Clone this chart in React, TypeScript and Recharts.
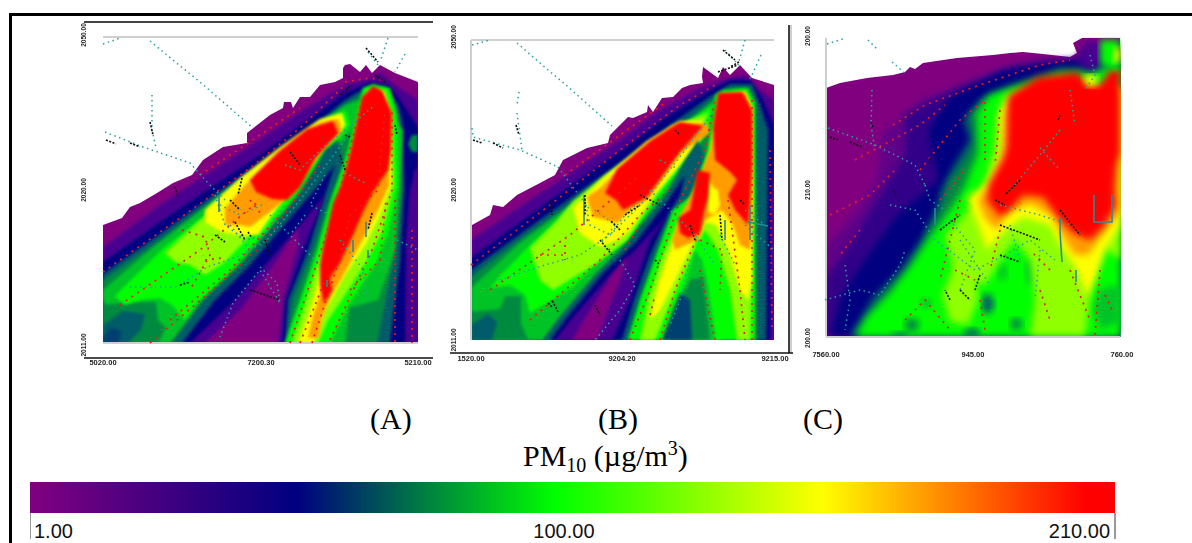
import React from 'react';
import { ScatterChart, Scatter, XAxis, YAxis, ReferenceLine, BarChart, Bar } from 'recharts';

type Pt = [number, number];
type Layer = [string, Pt[]];

const PURPLE = '#800080', PLUM = '#600088', INDIGO = '#4a0090', VIOLET = '#300088', NAVY = '#000080', TEAL = '#005c68', DKGREEN = '#008a40',
  MIDGREEN = '#00c428', GREEN = '#00ff00', LIME = '#90ff00', YELLOW = '#ffff00', ORANGE = '#ff9c00', RED = '#ff0000';

/* ---------- Panel A: concentration contours ---------- */
const aBase: Pt[] = [[345,65],[350,64],[360,72],[366,65],[372,73],[380,65],[395,73],[418,82],[418,343],[103,343],[103,225],[122,218],[130,207],[140,203],[157,193],[173,183],[192,175],[203,160],[223,147],[247,143],[247,133],[270,115],[283,108],[284,102],[291,102],[293,108],[300,97],[310,97],[320,85],[335,82],[343,78],[343,68]];
const aIndigo: Pt[] = [[103,247],[160,205],[205,175],[255,143],[300,112],[345,85],[372,78],[380,72],[395,85],[418,100],[418,343],[103,343]];
const aNavy: Pt[] = [[103,262],[160,222],[210,188],[260,155],[305,122],[345,93],[370,82],[388,85],[400,100],[418,127],[418,165],[410,190],[406,240],[405,343],[103,343]];
const aTeal: Pt[] = [[103,274],[160,234],[215,194],[265,161],[310,129],[345,100],[365,88],[385,87],[398,105],[402,120],[404,190],[402,225],[400,260],[395,300],[390,343],[103,343]];
const aBlob: Pt[] = [[412,135],[418,135],[418,152],[412,152],[408,144]];
const aRightPurple: Pt[] = [[414,170],[418,170],[418,343],[408,343],[410,250]];
const aDkGreen: Pt[] = [[103,280],[160,240],[218,197],[268,163],[313,130],[348,103],[365,92],[385,90],[396,107],[400,130],[402,190],[398,225],[394,258],[385,303],[377,343],[103,343]];
const aLeftMid: Pt[] = [[103,290],[150,250],[210,203],[260,166],[305,133],[345,105],[360,100],[352,130],[335,150],[300,195],[240,268],[200,305],[170,343],[130,343],[103,300]];
const aPatchDk: Pt[] = [[103,305],[130,302],[156,302],[158,320],[166,328],[158,343],[103,343]];
const aPatchTeal: Pt[] = [[103,325],[123,311],[145,314],[141,330],[128,343],[103,343]];
const aPatchNavy: Pt[] = [[103,336],[113,327],[122,332],[118,343],[103,343]];
const aLeftGreen: Pt[] = [[115,296],[135,276],[165,247],[200,219],[235,192],[275,162],[310,137],[345,110],[350,125],[330,150],[295,195],[265,232],[230,272],[195,305],[185,320],[178,312],[172,305],[160,298],[140,300],[125,305]];
const aLeftLime: Pt[] = [[165,253],[195,225],[225,199],[265,167],[300,140],[340,114],[345,125],[320,155],[285,195],[255,230],[225,262],[205,275],[190,265],[175,262]];
const aLeftYellow: Pt[] = [[205,210],[240,178],[280,147],[320,119],[342,113],[345,125],[320,153],[290,190],[258,235],[240,235],[222,232],[205,222]];
const aLeftOrange: Pt[] = [[225,208],[245,185],[262,169],[287,149],[320,123],[338,119],[342,132],[320,152],[293,193],[272,210],[250,227],[240,225],[225,225]];
const aLeftRed: Pt[] = [[250,180],[278,152],[307,129],[333,121],[338,133],[315,159],[300,187],[287,200],[272,199],[256,192]];
const aGapTeal: Pt[] = [[338,140],[345,170],[333,190],[313,250],[293,300],[287,343],[172,343],[203,300],[240,265],[300,193],[325,150]];
const aGapNavy: Pt[] = [[335,165],[325,195],[308,250],[288,300],[285,343],[182,343],[215,300],[250,265],[310,195]];
const aGapIndigo: Pt[] = [[325,195],[303,250],[285,300],[282,343],[190,343],[235,300],[265,265],[300,225]];
const aGapPurple: Pt[] = [[298,228],[298,245],[283,300],[278,343],[205,343],[240,310],[270,270]];
const aRightMid: Pt[] = [[320,343],[340,310],[378,300],[395,250],[400,180],[403,130],[375,95],[345,343]];
const aRightGreen: Pt[] = [[285,343],[300,300],[317,250],[330,203],[347,153],[357,110],[363,88],[373,84],[390,88],[397,115],[398,187],[394,207],[388,233],[375,265],[358,290],[342,318],[330,343]];
const aRightLime: Pt[] = [[292,343],[305,305],[322,250],[335,205],[350,155],[360,110],[367,90],[385,90],[392,115],[394,185],[388,210],[382,232],[366,262],[345,295],[328,320],[318,343]];
const aRightYellow: Pt[] = [[298,343],[310,310],[325,258],[338,210],[353,155],[363,112],[370,92],[383,92],[390,115],[391,185],[380,215],[365,245],[345,275],[325,310],[313,343]];
const aRightOrange: Pt[] = [[308,338],[312,320],[320,295],[327,260],[341,210],[356,155],[365,112],[372,90],[381,90],[388,112],[389,185],[378,210],[362,240],[345,272],[330,298],[322,318],[318,338]];
const aRightRed: Pt[] = [[373,86],[382,91],[392,113],[391,150],[388,170],[373,192],[363,212],[353,235],[340,263],[330,278],[332,290],[324,304],[320,285],[320,265],[323,247],[333,203],[340,187],[350,153],[357,120],[362,97]];

const aLayers: Layer[] = [
  [INDIGO, aIndigo], [NAVY, aNavy], [TEAL, aTeal], [DKGREEN, aBlob], [INDIGO, aRightPurple], [DKGREEN, aDkGreen],
  [MIDGREEN, aLeftMid], [DKGREEN, aPatchDk], [TEAL, aPatchTeal], ['#004070', aPatchNavy],
  [GREEN, aLeftGreen], [LIME, aLeftLime], [YELLOW, aLeftYellow], [ORANGE, aLeftOrange], [RED, aLeftRed],
  [TEAL, aGapTeal], [NAVY, aGapNavy], [INDIGO, aGapIndigo], [PURPLE, aGapPurple],
  [MIDGREEN, aRightMid], [GREEN, aRightGreen], [LIME, aRightLime], [YELLOW, aRightYellow], [ORANGE, aRightOrange], [RED, aRightRed],
];

const aTealRoads: Pt[][] = [
  [[103,44],[120,38]], [[150,41],[179,65],[200,82],[253,128]], [[152,95],[152,130],[156,148]],
  [[105,132],[143,147],[190,163],[208,183],[225,200]], [[368,52],[378,65]], [[388,38],[380,62]], [[405,54],[395,72]],
  [[130,287],[177,287],[207,267],[237,257],[267,240],[300,200],[330,160],[345,140]],
  [[215,195],[225,225],[245,240],[265,235],[285,205]], [[260,267],[277,283],[280,303],[260,270],[233,303],[220,337]],
  [[270,215],[305,250],[320,265]], [[340,240],[362,268],[368,300]], [[397,240],[418,250]],
  [[285,165],[300,170],[320,150],[345,130],[375,105]], [[345,173],[365,183]],
  [[220,205],[240,215],[262,205]], [[230,225],[250,250]], [[325,175],[310,205],[330,215]], [[305,215],[290,235]],
];
const aTealBars: Pt[][] = [[[219,195],[219,212]], [[366,222],[366,237]], [[353,240],[353,252]], [[368,250],[368,258]], [[327,280],[327,287]]];
const aRedRoads: Pt[][] = [
  [[103,272],[180,218],[250,168],[300,128],[345,85]], [[120,305],[200,250],[260,200]], [[150,343],[210,292],[262,245],[320,165]],
  [[290,343],[318,260],[340,190],[362,100]], [[312,343],[340,258],[350,215],[378,190],[385,110]], [[330,340],[372,250],[392,190],[392,110]],
  [[395,200],[395,343]], [[412,230],[412,343]], [[345,82],[370,78],[382,80]], [[182,230],[205,237],[210,255],[190,290]],
  [[200,175],[260,135],[300,108]], [[170,320],[230,270],[280,215]], [[300,343],[325,280]], [[350,290],[380,260],[386,200]], [[250,200],[262,215]], [[205,260],[222,258]],
];
const aBlackRoads: Pt[][] = [
  [[366,48],[378,62]], [[150,122],[153,135]], [[106,140],[116,144]], [[130,143],[140,147]], [[345,135],[350,137]], [[340,155],[345,170]],
  [[235,222],[245,240]], [[180,285],[190,282]], [[250,290],[280,300]], [[265,240],[270,255]], [[242,178],[238,195]], [[372,213],[368,230]],
  [[375,75],[385,82]], [[290,152],[300,165]], [[175,187],[178,197]], [[395,125],[397,135]], [[230,200],[240,210]], [[215,235],[225,242]], [[340,95],[352,85]], [[248,232],[252,238]],
];
const aFrame: Pt[][] = [[[103,37],[418,37]], [[103,343],[418,343]]];

/* ---------- Panel B ---------- */
const bBase: Pt[] = [[774,85],[752,78],[740,65],[730,75],[723,67],[718,78],[703,67],[702,77],[703,83],[690,85],[682,88],[673,97],[662,98],[653,112],[648,105],[647,112],[633,118],[628,117],[610,135],[608,143],[587,148],[563,160],[555,175],[540,183],[517,195],[503,207],[493,205],[490,215],[472,225],[471,340],[774,340]];
const bIndigo: Pt[] = [[471,240],[530,200],[575,170],[620,140],[660,110],[700,88],[730,78],[745,75],[760,90],[774,100],[774,340],[471,340]];
const bNavy: Pt[] = [[471,258],[530,215],[585,175],[625,148],[665,118],[705,93],[730,80],[750,80],[763,100],[774,125],[774,170],[770,200],[770,340],[471,340]];
const bTeal: Pt[] = [[471,270],[530,227],[590,184],[630,156],[670,125],[708,98],[730,84],[752,84],[760,105],[768,130],[766,340],[471,340]];
const bDkGreen: Pt[] = [[471,277],[530,232],[595,188],[635,160],[675,130],[712,100],[735,88],[750,88],[756,105],[757,340],[471,340]];
const bLeftMid: Pt[] = [[471,288],[520,243],[580,198],[630,161],[678,130],[715,100],[712,125],[695,150],[667,193],[627,243],[597,273],[560,317],[543,340],[490,340],[471,310]];
const bPatchDk: Pt[] = [[471,312],[500,309],[505,296],[521,296],[521,323],[528,340],[471,340]];
const bPatchTeal: Pt[] = [[471,325],[488,314],[497,322],[492,340],[471,340]];
const bLeftGreen: Pt[] = [[490,288],[500,276],[530,245],[565,213],[600,185],[640,155],[680,128],[712,106],[708,130],[690,155],[660,195],[627,240],[600,260],[573,287],[530,313],[525,295],[510,285]];
const bLeftLime: Pt[] = [[530,248],[557,221],[573,201],[605,175],[645,148],[682,123],[708,113],[695,145],[660,190],[627,240],[597,263],[553,290],[540,280]];
const bLeftYellow: Pt[] = [[573,208],[603,178],[647,141],[680,121],[703,121],[700,140],[680,165],[650,200],[630,230],[617,240],[600,247],[580,233]];
const bLeftOrange: Pt[] = [[587,197],[600,188],[617,171],[647,145],[673,125],[707,123],[710,133],[680,153],[660,183],[647,200],[630,210],[617,223],[593,217]];
const bLeftRed: Pt[] = [[605,193],[617,169],[650,141],[680,122],[703,126],[680,152],[657,183],[647,197],[623,210],[616,200]];
const bGapTeal: Pt[] = [[698,140],[708,165],[690,197],[673,212],[657,253],[640,300],[628,340],[543,340],[560,317],[597,273],[627,243],[667,193],[685,160]];
const bGapNavy: Pt[] = [[685,175],[680,195],[668,215],[650,255],[634,300],[622,340],[550,340],[567,317],[603,273],[635,243],[668,200]];
const bGapIndigo: Pt[] = [[668,215],[650,240],[630,300],[612,340],[555,340],[575,315],[610,275],[640,245]];
const bGapPurple: Pt[] = [[628,255],[620,280],[612,300],[597,340],[572,340],[590,310],[612,275]];
const bRightGreen: Pt[] = [[628,340],[640,300],[657,253],[673,210],[690,197],[707,153],[713,117],[715,95],[723,90],[747,88],[755,103],[755,340]];
const bRightLime: Pt[] = [[640,340],[648,300],[663,255],[680,218],[698,190],[710,150],[716,118],[720,95],[745,92],[752,110],[753,200],[752,260],[750,340],[737,340],[730,290],[718,250],[705,230],[690,260],[672,300],[655,340]];
const bRightYellow: Pt[] = [[650,320],[658,285],[668,255],[680,225],[700,195],[712,150],[717,118],[720,95],[745,92],[752,108],[752,200],[752,280],[748,300],[740,290],[728,250],[716,225],[705,222],[692,245],[675,280],[660,310]];
const bRightOrange: Pt[] = [[672,240],[680,215],[695,188],[710,150],[716,118],[720,95],[745,92],[752,110],[752,170],[752,225],[750,250],[740,245],[733,225],[722,210],[705,220],[698,240],[685,245],[675,250]];
const bYellowCore: Pt[] = [[707,178],[713,187],[718,190],[720,205],[715,215],[708,212],[708,195]];
const bMainRed: Pt[] = [[718,93],[742,92],[752,110],[752,163],[750,200],[748,225],[735,210],[728,195],[737,180],[730,172],[715,160],[713,127]];
const bSideRed: Pt[] = [[697,170],[710,173],[708,197],[704,212],[700,233],[688,238],[680,233],[678,218],[690,210],[693,195]];
const bNotchGreen: Pt[] = [[697,237],[703,245],[712,280],[722,340],[658,340],[668,310],[680,285],[692,262]];
const bNotchMid: Pt[] = [[695,250],[702,260],[708,285],[716,340],[662,340],[672,310],[685,285]];
const bNotchDk: Pt[] = [[690,280],[703,277],[710,340],[668,340],[678,305]];
const bNotchNavy: Pt[] = [[680,293],[690,300],[692,340],[662,340],[672,315]];

const bLayers: Layer[] = [
  [INDIGO, bIndigo], [NAVY, bNavy], [TEAL, bTeal], [DKGREEN, bDkGreen], [MIDGREEN, bLeftMid], [DKGREEN, bPatchDk], [TEAL, bPatchTeal],
  [GREEN, bLeftGreen], [LIME, bLeftLime], [YELLOW, bLeftYellow], [ORANGE, bLeftOrange], [RED, bLeftRed],
  [TEAL, bGapTeal], [NAVY, bGapNavy], [INDIGO, bGapIndigo], [PURPLE, bGapPurple],
  [GREEN, bRightGreen], [LIME, bRightLime], [YELLOW, bRightYellow], [ORANGE, bRightOrange], [YELLOW, bYellowCore], [RED, bMainRed], [RED, bSideRed],
  [GREEN, bNotchGreen], [MIDGREEN, bNotchMid], [DKGREEN, bNotchDk], ['#004070', bNotchNavy],
];

const bTealRoads: Pt[][] = [
  [[472,45],[490,40]], [[517,43],[548,70],[566,85],[612,126]], [[519,92],[517,105]], [[517,113],[522,150]], [[472,128],[473,137],[520,150],[558,167]],
  [[558,167],[575,190],[590,210]], [[725,50],[736,62]], [[745,40],[738,65]], [[761,55],[752,75],[748,82]],
  [[500,280],[545,265],[580,255],[610,235],[650,195],[685,150],[715,110]], [[585,200],[590,225],[610,235],[625,215],[640,200]],
  [[620,260],[635,285],[620,310],[595,340]], [[650,190],[695,235],[715,265]], [[690,260],[680,300],[670,325]], [[745,225],[774,250]], [[745,210],[765,225]],
  [[595,210],[615,225],[600,245]], [[660,160],[680,170]], [[720,235],[735,265]],
];
const bTealBars: Pt[][] = [[[584,195],[584,225]], [[725,220],[725,240]], [[750,205],[750,240]], [[748,222],[768,226]]];
const bRedRoads: Pt[][] = [
  [[471,265],[550,205],[620,150],[680,105],[715,85]], [[490,290],[570,235],[640,175]], [[530,320],[600,260],[640,215],[670,190]],
  [[630,340],[650,290],[680,200],[705,150],[715,100]], [[660,340],[675,290],[700,230]], [[700,270],[715,340]], [[728,200],[740,290],[745,340]],
  [[752,100],[752,340]], [[770,150],[772,330]], [[540,255],[565,255]], [[565,245],[565,260]],
  [[565,175],[620,135],[665,103]], [[700,240],[722,250],[720,290]], [[625,250],[640,225]], [[650,315],[655,295]],
];
const bBlackRoads: Pt[][] = [
  [[723,50],[735,60]], [[739,62],[730,67]], [[516,125],[519,135]], [[473,140],[482,143]], [[493,143],[503,148]], [[550,200],[552,215]], [[585,195],[585,215]],
  [[640,195],[660,205]], [[690,225],[695,240]], [[620,230],[610,220]], [[600,240],[612,255]], [[655,260],[660,265]], [[740,200],[745,205]], [[675,130],[680,135]],
  [[558,312],[552,300]], [[595,305],[600,315]], [[720,215],[722,240]], [[718,72],[738,65]], [[625,215],[640,205]], [[548,303],[552,307]],
];
const bFrame: Pt[][] = [[[471,40],[774,40]], [[471,40],[471,340]]];

/* ---------- Panel C ---------- */
const cBase: Pt[] = [[826,88],[840,83],[867,78],[893,75],[905,72],[910,67],[915,69],[923,63],[957,58],[993,55],[1010,53],[1023,52],[1043,54],[1070,57],[1077,53],[1073,43],[1082,38],[1120,38],[1120,336],[826,336]];
const cPlum: Pt[] = [[1040,60],[1075,60],[1085,46],[1120,46],[1120,336],[826,336],[826,247],[857,210],[877,180],[883,133],[923,100],[1030,62]];
const cViolet: Pt[] = [[1010,68],[1075,62],[1085,52],[1120,52],[1120,336],[826,336],[826,278],[850,245],[880,195],[905,155],[905,115],[935,98]];
const cNavy: Pt[] = [[1000,72],[1040,64],[1075,60],[1085,65],[1100,60],[1120,60],[1120,336],[830,336],[842,295],[868,255],[897,215],[938,180],[928,130],[950,97]];
const cTeal: Pt[] = [[1010,85],[1060,68],[1090,68],[1120,63],[1120,336],[850,336],[873,297],[900,270],[921,240],[936,210],[941,190],[957,160],[970,140],[963,120],[983,97]];
const cDkGreen: Pt[] = [[1015,87],[1060,71],[1090,71],[1120,65],[1120,336],[853,336],[880,300],[908,270],[925,240],[942,205],[950,180],[965,160],[975,140],[970,115],[985,100]];
const cGreen: Pt[] = [[1020,86],[1060,74],[1090,74],[1120,67],[1120,336],[857,336],[867,317],[890,293],[913,263],[930,237],[950,210],[963,190],[978,153],[977,113],[990,95]];
const cSpot1: Pt[] = [[905,320],[915,318],[920,325],[914,332],[905,330]];
const cSpot2: Pt[] = [[982,295],[990,294],[995,305],[988,315],[982,310]];
const cSpot3: Pt[] = [[965,330],[975,328],[980,332],[978,336],[963,336]];
const cSpot4: Pt[] = [[1012,318],[1020,318],[1023,327],[1015,331],[1010,326]];
const cSpot5: Pt[] = [[892,334],[903,331],[908,336],[890,336]];
const cSpot6: Pt[] = [[922,298],[930,298],[932,306],[925,309],[920,304]];
const cSpot7: Pt[] = [[1030,255],[1036,262],[1036,285],[1028,285],[1025,268]];
const cSpot8: Pt[] = [[1000,264],[1006,264],[1007,278],[1000,281],[998,272]];
const cSpot9: Pt[] = [[1098,290],[1120,285],[1120,322],[1100,330],[1092,310]];
const cLime: Pt[] = [[1005,95],[1060,78],[1090,85],[1120,88],[1120,260],[1095,240],[1090,300],[1085,336],[1030,336],[1035,300],[1030,260],[1015,240],[1000,260],[985,285],[970,280],[955,275],[945,235],[960,220],[980,193],[993,153],[997,113]];
const cLimeFinger: Pt[] = [[955,265],[975,262],[978,300],[968,325],[950,322],[942,295]];
const cYellow: Pt[] = [[1010,100],[1060,82],[1090,90],[1120,90],[1120,225],[1107,247],[1097,275],[1087,297],[1077,270],[1060,245],[1050,225],[1023,217],[1003,232],[987,250],[975,217],[967,197],[990,183],[1002,153],[1000,113]];
const cOrange: Pt[] = [[1013,97],[1060,83],[1090,90],[1120,90],[1120,212],[1100,238],[1088,255],[1075,255],[1060,232],[1052,216],[1030,203],[1007,213],[997,230],[985,218],[978,200],[990,182],[1003,153],[1005,113]];
const cRed: Pt[] = [[1010,95],[1038,77],[1077,72],[1090,85],[1100,85],[1110,70],[1120,69],[1120,153],[1116,165],[1114,190],[1116,205],[1103,227],[1090,240],[1073,233],[1060,220],[1043,197],[1023,195],[1010,210],[1000,217],[987,200],[990,183],[1003,160],[1007,147],[1008,100]];
const cTopGreen: Pt[] = [[1100,40],[1120,40],[1120,69],[1110,68],[1100,65]];
const cTopIndigo: Pt[] = [[1085,42],[1100,42],[1100,65],[1090,72],[1078,60]];
const cTopYellow: Pt[] = [[1115,48],[1120,48],[1120,62],[1113,62]];
const cTopBlob: Pt[] = [[1083,75],[1098,75],[1095,85],[1088,87]];

const cLayers: Layer[] = [
  [PLUM, cPlum], [VIOLET, cViolet], [NAVY, cNavy], [TEAL, cTeal], [DKGREEN, cDkGreen], [GREEN, cGreen],
  [DKGREEN, cSpot1], [TEAL, cSpot2], [TEAL, cSpot3], [DKGREEN, cSpot4], [TEAL, cSpot5], [MIDGREEN, cSpot6], [MIDGREEN, cSpot7], [MIDGREEN, cSpot8], [MIDGREEN, cSpot9],
  [LIME, cLime], [LIME, cLimeFinger], [YELLOW, cYellow], [ORANGE, cOrange], [RED, cRed], [INDIGO, cTopIndigo], [GREEN, cTopGreen], [YELLOW, cTopYellow], [YELLOW, cTopBlob],
];

const cTealRoads: Pt[][] = [
  [[827,44],[843,39]], [[868,40],[878,50]], [[892,62],[907,75]], [[872,90],[871,125],[875,150]], [[828,128],[875,145],[915,165],[925,185]], [[925,185],[930,200],[945,210]],
  [[1060,130],[1040,155],[1010,190]], [[1040,148],[1060,170]], [[1070,90],[1075,125]], [[890,205],[915,210],[935,240],[975,270],[1005,255],[1030,240],[1055,260]],
  [[825,300],[860,290],[880,295],[900,265],[905,250]], [[845,265],[850,300],[845,330]], [[1000,205],[1040,215],[1070,225]], [[960,240],[990,285]], [[1040,250],[1035,300]], [[1090,55],[1095,75],[1085,90]],
  [[950,220],[975,250],[960,290]], [[1010,225],[1020,260]],
];
const cTealBars: Pt[][] = [[[1094,195],[1094,222],[1112,222],[1112,195]], [[1060,218],[1060,232],[1062,262]], [[1076,270],[1076,282]], [[935,208],[935,225]]];
const cRedRoads: Pt[][] = [
  [[893,125],[925,105],[980,85],[1040,65],[1070,60]], [[855,160],[920,125],[945,105]], [[920,170],[960,120],[985,100]], [[985,160],[985,100]], [[1000,110],[995,165]],
  [[830,215],[870,195],[895,170]], [[860,230],[840,255]], [[940,200],[965,170]], [[960,200],[940,280]], [[905,320],[925,300],[950,330]], [[980,300],[985,330]],
  [[1040,290],[1050,320]], [[1070,270],[1090,320]], [[1100,270],[1095,335]], [[1050,270],[1030,250]], [[1105,295],[1112,310]], [[1000,230],[990,270]], [[955,270],[975,280]],
];
const cBlackRoads: Pt[][] = [
  [[871,122],[873,128]], [[830,137],[838,140]], [[850,142],[862,147]], [[930,158],[930,165]], [[893,190],[897,196]], [[1060,115],[1058,120]], [[1000,225],[1040,240]],
  [[1020,180],[1005,195]], [[940,230],[960,215]], [[1000,255],[1020,262]], [[980,275],[975,290]], [[960,290],[970,300]], [[1060,210],[1080,235]], [[995,200],[1005,205]], [[950,300],[945,290]],
];
const cFrame: Pt[][] = [[[826,38],[826,336]], [[826,337],[1120,337]]];

/* ---------- Axis labels ---------- */
const aXTicks = [103, 261, 418];
const aXLabels = ['5020.00', '7200.30', '5210.00'];
const aYTicks = [35, 190, 345];
const aYLabels = ['2050.00', '2020.00', '2011.00'];
const bXTicks = [471, 622, 775];
const bXLabels = ['1520.00', '9204.20', '9215.00'];
const bYTicks = [37, 190, 340];
const bYLabels = ['2050.00', '2020.00', '2011.00'];
const cXTicks = [826, 973, 1122];
const cXLabels = ['7560.00', '945.00', '760.00'];
const cYTicks = [36, 190, 338];
const cYLabels = ['200.00', '210.00', '200.00'];

/* ---------- Colour scale ---------- */
const scaleMin = 1, scaleMax = 210;
const scaleOffsets = [0, 0.246, 0.484, 0.73, 0.973, 1];
const scaleColors = [PURPLE, NAVY, GREEN, YELLOW, RED, RED];
const scaleTicks = [1, 100, 210];
const scaleLabels = ['1.00', '100.00', '210.00'];
const scaleRow = [{ name: 'PM10', value: scaleMax }];

const toRows = (pts: Pt[]) => pts.map(([x, y]) => ({ x, y }));
const noDot = () => <g />;

const polyShape = (fill: string, extra: any) => (p: any) => (
  <g clipPath={extra.clip}>
    <path d={'M' + p.points.map((q: any) => `${q.x},${q.y}`).join('L') + 'Z'} fill={fill} stroke="none" filter={extra.filter} />
  </g>
);
const roadShape = (stroke: string, width: number, dash: string) => (p: any) => (
  <path d={'M' + p.points.map((q: any) => `${q.x},${q.y}`).join('L')} fill="none" stroke={stroke} strokeWidth={width} strokeDasharray={dash} />
);

type PanelCfg = {
  id: string; x: [number, number]; y: [number, number]; clip: [number, number, number, number]; blur: number;
  base: Pt[]; layers: Layer[]; teal: Pt[][]; bars: Pt[][]; red: Pt[][]; black: Pt[][]; frame: Pt[][];
  xTicks: number[]; xLabels: string[]; yTicks: number[]; yLabels: string[]; labelX: number; labelY: number;
  axis: boolean; topLine?: boolean; rightLine?: number; grayLine?: number;
};

function Panel({ c }: { c: PanelCfg }) {
  const left = c.x[0] - 20, top = c.y[0] - 4;
  const width = c.x[1] - left + 4, height = c.y[1] - top + 22;
  const clipUrl = `url(#clip${c.id})`;
  const blurUrl = `url(#blur${c.id})`;
  return (
    <div style={{ position: 'absolute', left, top }}>
      <ScatterChart width={width} height={height} margin={{ left: 0, right: 4, top: 4, bottom: 0 }}>
        <defs>
          <filter id={`blur${c.id}`} x="-15%" y="-15%" width="130%" height="130%">
            <feGaussianBlur stdDeviation={c.blur} />
          </filter>
          <clipPath id={`clip${c.id}`}>
            <rect x={c.clip[0] - left} y={c.clip[2] - top} width={c.clip[1] - c.clip[0]} height={c.clip[3] - c.clip[2]} />
          </clipPath>
        </defs>
        <XAxis
          type="number" dataKey="x" domain={c.x} allowDataOverflow ticks={c.xTicks} interval={0} height={22}
          axisLine={c.axis ? { stroke: '#111', strokeWidth: 1.6 } : false} tickLine={false}
          tick={(p: any) => (
            <text x={p.x} y={c.labelY - top} textAnchor="middle" fontSize={7.5} fontWeight={700} fontFamily="Liberation Sans" fill="#222" style={{ filter: 'blur(0.45px)' }}>
              {c.xLabels[c.xTicks.indexOf(p.payload.value)]}
            </text>
          )}
        />
        <YAxis
          type="number" dataKey="y" domain={c.y} reversed allowDataOverflow ticks={c.yTicks} interval={0} width={20}
          axisLine={false} tickLine={false}
          tick={(p: any) => (
            <text transform={`translate(${c.labelX - left},${p.y}) rotate(-90)`} textAnchor="middle" fontSize={6.5} fontWeight={700} fontFamily="Liberation Sans" fill="#222" style={{ filter: 'blur(0.45px)' }}>
              {c.yLabels[c.yTicks.indexOf(p.payload.value)]}
            </text>
          )}
        />
        {c.topLine && <ReferenceLine y={c.y[0]} stroke="#444" strokeWidth={2} />}
        {c.grayLine && <ReferenceLine x={c.grayLine} stroke="#cfcfcf" strokeWidth={2} />}
        {c.rightLine && <ReferenceLine x={c.rightLine} stroke="#111" strokeWidth={1.6} />}
        <Scatter data={toRows(c.base)} shape={noDot} line={polyShape(PURPLE, { clip: clipUrl })} isAnimationActive={false} />
        {c.layers.map(([fill, pts], i) => (
          <Scatter key={i} data={toRows(pts)} shape={noDot} line={polyShape(fill, { clip: clipUrl, filter: blurUrl })} isAnimationActive={false} />
        ))}
        {c.frame.map((pts, i) => (
          <Scatter key={'f' + i} data={toRows(pts)} shape={noDot} line={roadShape('#cfcfcf', 2, '')} isAnimationActive={false} />
        ))}
        {c.red.map((pts, i) => (
          <Scatter key={'r' + i} data={toRows(pts)} shape={noDot} line={roadShape('#ee1c1c', 1.7, '2 5')} isAnimationActive={false} />
        ))}
        {c.teal.map((pts, i) => (
          <Scatter key={'t' + i} data={toRows(pts)} shape={noDot} line={roadShape('#2aa0a0', 1.5, '1.5 3.5')} isAnimationActive={false} />
        ))}
        {c.bars.map((pts, i) => (
          <Scatter key={'b' + i} data={toRows(pts)} shape={noDot} line={roadShape('#2a8a96', 1.6, '')} isAnimationActive={false} />
        ))}
        {c.black.map((pts, i) => (
          <Scatter key={'k' + i} data={toRows(pts)} shape={noDot} line={roadShape('#111', 1.6, '2 1.5')} isAnimationActive={false} />
        ))}
      </ScatterChart>
    </div>
  );
}

const panels: PanelCfg[] = [
  { id: 'A', x: [84, 433], y: [22, 358], clip: [103, 418, 36, 343], blur: 1.6, base: aBase, layers: aLayers, teal: aTealRoads, bars: aTealBars, red: aRedRoads, black: aBlackRoads, frame: aFrame, xTicks: aXTicks, xLabels: aXLabels, yTicks: aYTicks, yLabels: aYLabels, labelX: 86, labelY: 365, axis: true, topLine: true },
  { id: 'B', x: [450, 793], y: [25, 353], clip: [471, 774, 39, 340], blur: 1.6, base: bBase, layers: bLayers, teal: bTealRoads, bars: bTealBars, red: bRedRoads, black: bBlackRoads, frame: bFrame, xTicks: bXTicks, xLabels: bXLabels, yTicks: bYTicks, yLabels: bYLabels, labelX: 456, labelY: 361, axis: true, rightLine: 789, grayLine: 791 },
  { id: 'C', x: [812, 1140], y: [20, 345], clip: [826, 1121, 37, 337], blur: 3.5, base: cBase, layers: cLayers, teal: cTealRoads, bars: cTealBars, red: cRedRoads, black: cBlackRoads, frame: cFrame, xTicks: cXTicks, xLabels: cXLabels, yTicks: cYTicks, yLabels: cYLabels, labelX: 810, labelY: 357, axis: false },
];

const captionStyle: React.CSSProperties = { position: 'absolute', fontFamily: 'Liberation Serif', fontSize: 30, lineHeight: '34px', color: '#000', whiteSpace: 'nowrap' };

export default function App() {
  return (
    <div style={{ position: 'absolute', left: 0, top: 0, width: 1192, height: 543, overflow: 'hidden', background: '#fff' }}>
      <div style={{ position: 'absolute', left: 9, top: 13, width: 1183, height: 3, background: '#000' }} />
      <div style={{ position: 'absolute', left: 9, top: 13, width: 3, height: 530, background: '#000' }} />
      {panels.map((c) => <Panel key={c.id} c={c} />)}
      <div style={{ ...captionStyle, left: 370, top: 402 }}>(A)</div>
      <div style={{ ...captionStyle, left: 598, top: 402 }}>(B)</div>
      <div style={{ ...captionStyle, left: 803, top: 402 }}>(C)</div>
      <div style={{ ...captionStyle, left: 523, top: 439 }}>
        PM<span style={{ fontSize: 20, position: 'relative', top: 6 }}>10</span>
        <span> (µg/m</span><span style={{ fontSize: 20, position: 'relative', top: -11 }}>3</span>)
      </div>
      <div style={{ position: 'absolute', left: 30, top: 482 }}>
        <BarChart width={1086} height={61} layout="vertical" data={scaleRow} margin={{ left: 0, right: 1, top: 0, bottom: 0 }} barCategoryGap={0}>
          <defs>
            <linearGradient id="pmScale" x1="0" y1="0" x2="1" y2="0">
              {scaleOffsets.map((o, i) => <stop key={i} offset={o} stopColor={scaleColors[i]} />)}
            </linearGradient>
          </defs>
          <XAxis
            type="number" domain={[scaleMin, scaleMax]} ticks={scaleTicks} interval={0} height={30} allowDataOverflow
            axisLine={false} tickLine={false}
            tick={(p: any) => {
              const v = p.payload.value;
              const i = scaleTicks.indexOf(v);
              const anchor = i === 0 ? 'start' : i === 2 ? 'end' : 'middle';
              const dx = i === 0 ? 4 : i === 2 ? -5 : 20;
              return (
                <g>
                  {i !== 1 && <line x1={p.x} x2={p.x} y1={31} y2={57} stroke="#333" strokeWidth={1} />}
                  <text x={p.x + dx} y={56} textAnchor={anchor} fontSize={20} fontFamily="Liberation Sans" fill="#111">{scaleLabels[i]}</text>
                </g>
              );
            }}
          />
          <YAxis type="category" dataKey="name" hide />
          <Bar dataKey="value" fill="url(#pmScale)" isAnimationActive={false} />
        </BarChart>
      </div>
    </div>
  );
}
